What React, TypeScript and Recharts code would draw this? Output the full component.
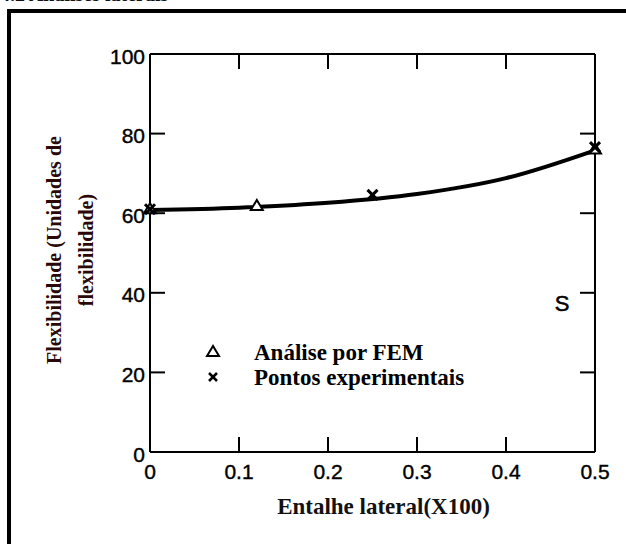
import React from 'react';
import { ComposedChart, Line, Scatter, XAxis, YAxis, Legend, ReferenceDot } from 'recharts';

// lateral notch (x100) vs. flexibility
const notchX = [0, 0.1, 0.2, 0.3, 0.4, 0.5];
const fittedCurve = [60.8, 61.4, 62.6, 64.8, 68.8, 75.8];

const femX = [0, 0.12, 0.5];
const femY = [61, 61.8, 76];

const expX = [0, 0.25, 0.5];
const expY = [61, 64.6, 76.6];

const xTicks = [0, 0.1, 0.2, 0.3, 0.4, 0.5];
const yTicks = [0, 20, 40, 60, 80, 100];
const innerXTicks = [0.1, 0.2, 0.3, 0.4];
const innerYTicks = [20, 40, 60, 80];

const curveData = notchX.map((x, i) => ({ x, y: fittedCurve[i] }));
const femData = femX.map((x, i) => ({ x, y: femY[i] }));
const expData = expX.map((x, i) => ({ x, y: expY[i] }));

const SANS = '"Liberation Sans", Arial, sans-serif';
const SERIF = '"Liberation Serif", "Times New Roman", serif';
const TICK = 15;

const LeftTick = ({ x, y, payload }: any) => (
  <g>
    {payload.value > 0 && payload.value < 100 && (
      <line x1={x} y1={y} x2={x + TICK} y2={y} stroke="#000" strokeWidth={2} />
    )}
    <text x={x - 5} y={y + 2} textAnchor="end" dominantBaseline="central" fontFamily={SANS} fontSize={21} fill="#000" stroke="#000" strokeWidth={0.4}>
      {payload.value}
    </text>
  </g>
);

const BottomTick = ({ x, y, payload }: any) => (
  <g>
    {payload.value > 0 && payload.value < 0.5 && (
      <line x1={x} y1={y} x2={x} y2={y - TICK} stroke="#000" strokeWidth={2} />
    )}
    <text x={x} y={y + 19} textAnchor="middle" dominantBaseline="central" fontFamily={SANS} fontSize={21} fill="#000" stroke="#000" strokeWidth={0.4}>
      {payload.value}
    </text>
  </g>
);

const TopTick = ({ x, y }: any) => <line x1={x} y1={y} x2={x} y2={y + TICK} stroke="#000" strokeWidth={2} />;

const RightTick = ({ x, y }: any) => <line x1={x} y1={y} x2={x - TICK} y2={y} stroke="#000" strokeWidth={2} />;

const Triangle = ({ cx, cy }: any) => (
  <polygon
    points={`${cx},${cy - 6} ${cx - 6},${cy + 4} ${cx + 6},${cy + 4}`}
    fill="#fff"
    stroke="#000"
    strokeWidth={2}
  />
);

const Cross = ({ cx, cy }: any) => (
  <g stroke="#000" strokeWidth={3}>
    <line x1={cx - 5} y1={cy - 5} x2={cx + 5} y2={cy + 5} />
    <line x1={cx - 5} y1={cy + 5} x2={cx + 5} y2={cy - 5} />
  </g>
);

const YTitle = ({ viewBox }: any) => {
  const cy = viewBox.y + viewBox.height / 2 - 3;
  const x1 = viewBox.x - 95;
  const x2 = viewBox.x - 63;
  const style = { fontFamily: SERIF, fontWeight: 'bold' as const, fontSize: 20 };
  return (
    <g fill="#2b0808">
      <text x={x1} y={cy} transform={`rotate(-90 ${x1} ${cy})`} textAnchor="middle" dominantBaseline="central" {...style}>
        Flexibilidade (Unidades de
      </text>
      <text x={x2} y={cy} transform={`rotate(-90 ${x2} ${cy})`} textAnchor="middle" dominantBaseline="central" {...style}>
        flexibilidade)
      </text>
    </g>
  );
};

const XTitle = ({ viewBox }: any) => (
  <text
    x={viewBox.x + viewBox.width / 2 + 11}
    y={viewBox.y + 54}
    textAnchor="middle"
    dominantBaseline="central"
    fontFamily={SERIF}
    fontWeight="bold"
    fontSize={23}
    fill="#111"
  >
    Entalhe lateral(X100)
  </text>
);

const legendRows = [
  { name: 'Análise por FEM', icon: 'triangle' },
  { name: 'Pontos experimentais', icon: 'cross' },
];

const renderLegend = () => (
  <div style={{ fontFamily: SERIF, fontWeight: 'bold', fontSize: 23, color: '#000' }}>
    {legendRows.map((row) => (
      <div key={row.name} style={{ display: 'flex', alignItems: 'center', height: 25 }}>
        <svg width={54} height={25}>
          {row.icon === 'triangle' ? (
            <polygon points="13,6 7,16 19,16" fill="#fff" stroke="#000" strokeWidth={2} />
          ) : (
            <g stroke="#000" strokeWidth={2.5}>
              <line x1={9} y1={8} x2={17} y2={16} />
              <line x1={9} y1={16} x2={17} y2={8} />
            </g>
          )}
        </svg>
        <span>{row.name}</span>
      </div>
    ))}
  </div>
);

export default function App() {
  return (
    <div style={{ position: 'absolute', left: 0, top: 0, width: 626, height: 544, background: '#fff', overflow: 'hidden' }}>
      <div
        style={{
          position: 'absolute',
          left: 0,
          top: -17,
          fontFamily: SERIF,
          fontWeight: 'bold',
          fontSize: 20,
          color: '#111',
          whiteSpace: 'nowrap',
        }}
      >
        4.2 Análises laterais
      </div>
      <div
        style={{
          position: 'absolute',
          left: 7,
          top: 9,
          width: 700,
          height: 600,
          border: '4px solid #000',
        }}
      />
      <div style={{ position: 'absolute', left: 0, top: 0 }}>
        <ComposedChart width={626} height={544} margin={{ top: 53, right: 30, bottom: 91, left: 149 }}>
          <XAxis
            xAxisId="bottom"
            type="number"
            dataKey="x"
            domain={[0, 0.5]}
            ticks={xTicks}
            height={1}
            tickSize={0}
            tickMargin={0}
            tickLine={false}
            tick={<BottomTick />}
            axisLine={{ stroke: '#000', strokeWidth: 2 }}
            label={{ content: XTitle }}
          />
          <XAxis
            xAxisId="top"
            orientation="top"
            type="number"
            dataKey="x"
            domain={[0, 0.5]}
            ticks={innerXTicks}
            height={1}
            tickSize={0}
            tickMargin={0}
            tickLine={false}
            tick={<TopTick />}
            axisLine={{ stroke: '#000', strokeWidth: 2 }}
          />
          <YAxis
            yAxisId="left"
            type="number"
            domain={[0, 100]}
            ticks={yTicks}
            width={1}
            tickSize={0}
            tickMargin={0}
            tickLine={false}
            tick={<LeftTick />}
            axisLine={{ stroke: '#000', strokeWidth: 2 }}
            label={{ content: YTitle }}
          />
          <YAxis
            yAxisId="right"
            orientation="right"
            type="number"
            domain={[0, 100]}
            ticks={innerYTicks}
            width={1}
            tickSize={0}
            tickMargin={0}
            tickLine={false}
            tick={<RightTick />}
            axisLine={{ stroke: '#000', strokeWidth: 2 }}
          />
          <Line
            xAxisId="bottom"
            yAxisId="left"
            data={curveData}
            dataKey="y"
            type="monotone"
            stroke="#000"
            strokeWidth={4}
            dot={false}
            legendType="none"
            isAnimationActive={false}
          />
          <Scatter
            xAxisId="top"
            yAxisId="right"
            data={curveData}
            dataKey="y"
            shape={() => null}
            legendType="none"
            isAnimationActive={false}
          />
          <Scatter
            xAxisId="bottom"
            yAxisId="left"
            name="Análise por FEM"
            data={femData}
            dataKey="y"
            shape={<Triangle />}
            isAnimationActive={false}
          />
          <Scatter
            xAxisId="bottom"
            yAxisId="left"
            name="Pontos experimentais"
            data={expData}
            dataKey="y"
            shape={<Cross />}
            isAnimationActive={false}
          />
          <ReferenceDot
            xAxisId="bottom"
            yAxisId="left"
            x={0.463}
            y={37.5}
            r={0}
            fill="none"
            stroke="none"
            label={{ value: 'S', position: 'center', fill: '#000', stroke: '#000', strokeWidth: 0.5, fontSize: 22, fontFamily: SANS }}
          />
          <Legend
            layout="vertical"
            align="center"
            verticalAlign="middle"
            content={renderLegend}
            wrapperStyle={{ left: 200, top: 340, width: 'auto' }}
          />
        </ComposedChart>
      </div>
    </div>
  );
}
